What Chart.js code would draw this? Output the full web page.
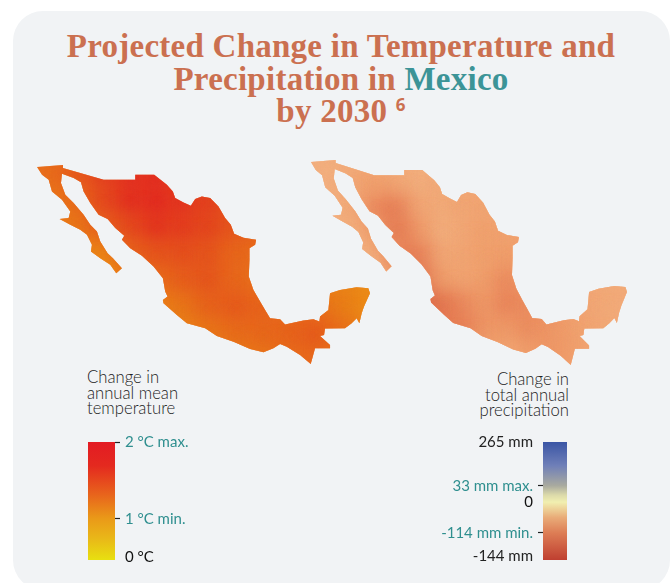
<!DOCTYPE html>
<html>
<head>
<meta charset="utf-8">
<title>Projected Change in Temperature and Precipitation in Mexico by 2030</title>
<script src="https://cdn.jsdelivr.net/npm/chart.js@4"></script>
<style>
html, body { margin: 0; padding: 0; background: #fff; overflow: hidden; }
#page { position: relative; width: 670px; height: 583px; overflow: hidden; }
#panel { position: absolute; left: 13px; top: 11px; width: 657px; height: 579px; background: #f1f3f5; border-radius: 30px; }
h1 { position: absolute; left: 0; top: 30px; width: 682px; margin: 0; text-align: center; font: bold 33px/32.5px "Liberation Serif", serif; color: #cb7050; letter-spacing: .25px; }
h1 span { color: #3c9497; }
h1 sup { font: bold 17px "Noto Sans", sans-serif; vertical-align: 11px; line-height: 0; }
.ltitle { position: absolute; font: 300 18.5px/15.5px Lato, sans-serif; color: #222; transform: scaleX(.9); }
canvas { position: absolute; }
</style>
</head>
<body>
<div id="page">
  <div id="panel"></div>
  <h1>Projected Change in Temperature and<br>Precipitation in <span>Mexico</span><br>by 2030 <sup>6</sup></h1>
  <div class="ltitle" style="left:87px;top:369px;transform-origin:left top">Change in<br>annual mean<br>temperature</div>
  <div class="ltitle" style="left:449px;top:371px;width:120px;text-align:right;transform-origin:right top">Change in<br>total annual<br>precipitation</div>
  <canvas id="tempMap" style="left:37px;top:165px;width:333px;height:199px"></canvas>
  <canvas id="rainMap" style="left:311px;top:160px;width:316px;height:205px"></canvas>
  <canvas id="tempKey" style="left:88px;top:428px;width:130px;height:146px"></canvas>
  <canvas id="rainKey" style="left:425px;top:428px;width:142px;height:146px"></canvas>
</div>
<script>
// outline of Mexico in map grid units (y grows southward)
const outlineX = [50,128,128,250,345,345,402,440,458,465,490,512,525,545,570,595,615,632,642,670,708,705,688,688,686,700,720,735,750,780,795,850,880,898,900,925,930,960,1010,1045,1050,1032,1025,1018,1010,995,975,915,912,900,930,930,885,878,872,840,800,780,760,730,690,640,590,555,500,470,430,428,442,435,428,400,365,330,305,312,285,262,235,210,190,182,160,125,122,135,160,190,210,230,240,262,278,305,288,270,240,212,215,200,180,150,118,145,150,125,95,85,65,50];
const outlineY = [52,46,55,90,90,75,75,105,125,145,158,168,148,140,145,170,205,225,252,264,270,285,295,330,380,420,455,480,505,508,524,512,508,515,500,480,430,420,412,415,430,470,490,520,505,520,535,536,555,558,585,595,595,620,642,615,590,582,595,607,597,575,558,535,520,495,460,450,440,425,385,350,318,295,270,258,235,208,195,160,125,98,85,72,100,135,160,195,225,245,275,310,325,355,370,345,325,305,285,255,240,225,208,205,185,150,125,90,75,52];

// change in annual mean temperature, degrees C
const tempGridX = [90,170,250,330,410,490,570,650,730,810,890,970,1050];
const tempGridY = [80,160,240,320,400,480,560,640];
const tempGrid = [
  [1.30,1.50,1.75,1.95,2.00,1.80,1.70,1.60,1.50,1.50,1.40,1.30,1.20],
  [1.20,1.30,1.65,1.95,2.00,1.90,1.75,1.60,1.50,1.40,1.30,1.20,1.10],
  [1.12,1.20,1.45,1.65,1.90,1.80,1.70,1.55,1.40,1.30,1.20,1.10,1.10],
  [1.10,1.10,1.10,1.40,1.55,1.60,1.55,1.35,1.30,1.25,1.15,1.10,1.05],
  [1.00,1.00,1.00,1.20,1.30,1.45,1.55,1.35,1.25,1.20,1.10,1.10,1.05],
  [1.00,1.00,1.00,1.10,1.10,1.20,1.40,1.50,1.40,1.30,1.30,1.15,1.05],
  [1.00,1.00,1.00,1.00,1.10,1.10,1.20,1.30,1.35,1.40,1.50,1.30,1.10],
  [1.00,1.00,1.00,1.00,1.10,1.10,1.10,1.15,1.20,1.30,1.35,1.20,1.10]
];

// change in total annual precipitation, mm
const rainGridX = [50,120,190,260,330,400,470,540,610,680,750,820,890,960,1030];
const rainGridY = [60,130,200,270,340,410,480,550,620];
const rainGrid = [
  [-60,-60,-65,-70,-62,-62,-65,-65,-65,-65,-65,-65,-65,-65,-65],
  [-60,-60,-70,-80,-72,-58,-68,-70,-70,-70,-70,-70,-70,-70,-70],
  [-60,-62,-65,-98,-108,-70,-65,-72,-72,-72,-72,-72,-72,-72,-72],
  [-60,-62,-60,-78,-110,-85,-58,-70,-78,-75,-75,-75,-75,-72,-70],
  [-60,-62,-60,-60,-98,-108,-68,-72,-78,-80,-80,-78,-75,-72,-68],
  [-60,-60,-60,-60,-80,-118,-78,-72,-78,-98,-80,-78,-70,-68,-66],
  [-60,-60,-60,-60,-80,-125,-115,-98,-82,-102,-92,-85,-72,-70,-66],
  [-60,-60,-60,-60,-80,-100,-105,-105,-85,-82,-95,-85,-78,-70,-66],
  [-60,-60,-60,-60,-80,-90,-90,-85,-80,-72,-80,-88,-80,-70,-66]
];

// colour keys: tick labels and where they sit along the bar (0 bottom, 100 top)
const tempKeyLabels = ['2 °C max.', '1 °C min.', '0 °C'];
const tempKeyAt = [100, 35, 2];
const tempKeyInk = ['#2f8f8f', '#2f8f8f', '#111'];
const tempKeyMarks = [true, true, false];
const rainKeyLabels = ['265 mm', '33 mm max.', '0', '-114 mm min.', '-144 mm'];
const rainKeyAt = [100, 63, 49, 23, 3];
const rainKeyInk = ['#222', '#2f8f8f', '#111', '#2f8f8f', '#222'];
const rainKeyMarks = [false, true, false, true, false];

const tempRamp = [[1.0,[239,160,20]],[1.15,[234,128,24]],[1.3,[232,108,28]],[1.5,[230,84,30]],[1.7,[227,58,32]],[2.0,[226,26,35]]];
const rainRamp = [[-144,[191,63,48]],[-114,[224,106,72]],[-100,[232,127,86]],[-80,[240,158,107]],[-60,[243,178,130]],[-40,[242,198,144]],[0,[240,238,176]]];
const tempKeyStops = [[0,'#e8e010'],[0.18,'#e9b818'],[0.35,'#ea9a18'],[0.55,'#e8651c'],[0.8,'#e4291f'],[1,'#e31b23']];
const rainKeyStops = [[0,'#bf3f30'],[0.23,'#dd7d55'],[0.36,'#e9ab78'],[0.49,'#f1efb0'],[0.55,'#dcdaaa'],[0.63,'#a9aa9f'],[0.8,'#6f7fb8'],[1,'#3a55a5']];

function rampColor(ramp, v) {
    for (let i = 1; i < ramp.length; i++) {
        if (v <= ramp[i][0]) {
            const t = (v - ramp[i - 1][0]) / (ramp[i][0] - ramp[i - 1][0]);
            const c = ramp[i - 1][1].map((a, k) => Math.round(a + (ramp[i][1][k] - a) * t));
            return `rgb(${c[0]},${c[1]},${c[2]})`;
        }
    }
    return `rgb(${ramp[ramp.length - 1][1].join(',')})`;
}

// keeps the colour cells inside the country outline and softens their edges
const clipToOutline = {
    id: 'clipToOutline',
    beforeDatasetDraw(chart, args) {
        if (args.index !== 0) return;
        const { ctx, scales } = chart;
        ctx.save();
        ctx.beginPath();
        outlineX.forEach((x, i) => {
            const px = scales.x.getPixelForValue(x);
            const py = scales.y.getPixelForValue(outlineY[i]);
            if (i === 0) ctx.moveTo(px, py); else ctx.lineTo(px, py);
        });
        ctx.closePath();
        ctx.clip();
        ctx.filter = 'blur(11px)';
    },
    afterDatasetDraw(chart, args) {
        if (args.index === 0) chart.ctx.restore();
    }
};

function drawMap(id, gridX, gridY, grid, ramp, baseColor) {
    const cells = [];
    const colors = [];
    gridY.forEach((y, r) => gridX.forEach((x, c) => {
        cells.push({ x, y });
        colors.push(rampColor(ramp, grid[r][c]));
    }));
    new Chart(document.getElementById(id), {
        type: 'scatter',
        data: {
            datasets: [
                { data: cells, pointStyle: 'rect', pointRadius: 20, pointBackgroundColor: colors, pointBorderWidth: 0, clip: false },
                { data: outlineX.map((x, i) => ({ x, y: outlineY[i] })), showLine: true, fill: 'shape', backgroundColor: baseColor, borderWidth: 0, pointRadius: 0, tension: 0, clip: false }
            ]
        },
        options: {
            responsive: false, animation: false, devicePixelRatio: 1,
            layout: { padding: 0, autoPadding: false },
            events: [],
            plugins: { legend: { display: false }, title: { display: false }, tooltip: { enabled: false } },
            scales: {
                x: { type: 'linear', display: false, min: 50, max: 1050 },
                y: { type: 'linear', display: false, min: 46, max: 642, reverse: true }
            }
        },
        plugins: [clipToOutline]
    });
}

function drawKey(id, side, axisWidth, labels, at, ink, marks, stops) {
    new Chart(document.getElementById(id), {
        type: 'bar',
        data: {
            labels: [''],
            datasets: [{
                data: [[0, 100]],
                barPercentage: 1, categoryPercentage: 1, borderWidth: 0,
                backgroundColor: (c) => {
                    const a = c.chart.chartArea;
                    if (!a) return 'transparent';
                    const g = c.chart.ctx.createLinearGradient(0, a.bottom, 0, a.top);
                    stops.forEach(s => g.addColorStop(s[0], s[1]));
                    return g;
                }
            }]
        },
        options: {
            responsive: false, animation: false, devicePixelRatio: 1,
            layout: { padding: { top: 14, bottom: 14 } },
            events: [],
            plugins: { legend: { display: false }, title: { display: false }, tooltip: { enabled: false } },
            scales: {
                x: { display: false },
                y: {
                    position: side, min: 0, max: 100,
                    border: { display: false },
                    afterBuildTicks: (s) => { s.ticks = at.map(v => ({ value: v })); },
                    afterFit: (s) => { s.width = axisWidth; s.paddingTop = 0; s.paddingBottom = 0; },
                    grid: {
                        drawOnChartArea: false, drawTicks: true, tickLength: 5, tickWidth: 1.2,
                        tickColor: (c) => marks[at.indexOf(c.tick && c.tick.value)] ? '#222' : 'transparent'
                    },
                    ticks: {
                        padding: 5, autoSkip: false, includeBounds: false, maxRotation: 0,
                        font: { family: 'Lato, sans-serif', size: 15 },
                        color: (c) => ink[at.indexOf(c.tick && c.tick.value)] || '#222',
                        callback: (v) => labels[at.indexOf(v)]
                    }
                }
            }
        }
    });
}

for (const c of document.querySelectorAll('canvas')) {
    c.width = parseInt(c.style.width);
    c.height = parseInt(c.style.height);
}

drawMap('tempMap', tempGridX, tempGridY, tempGrid, tempRamp, '#e8701c');
drawMap('rainMap', rainGridX, rainGridY, rainGrid, rainRamp, '#f2a470');
drawKey('tempKey', 'right', 103, tempKeyLabels, tempKeyAt, tempKeyInk, tempKeyMarks, tempKeyStops);
drawKey('rainKey', 'left', 118, rainKeyLabels, rainKeyAt, rainKeyInk, rainKeyMarks, rainKeyStops);
</script>
</body>
</html>
